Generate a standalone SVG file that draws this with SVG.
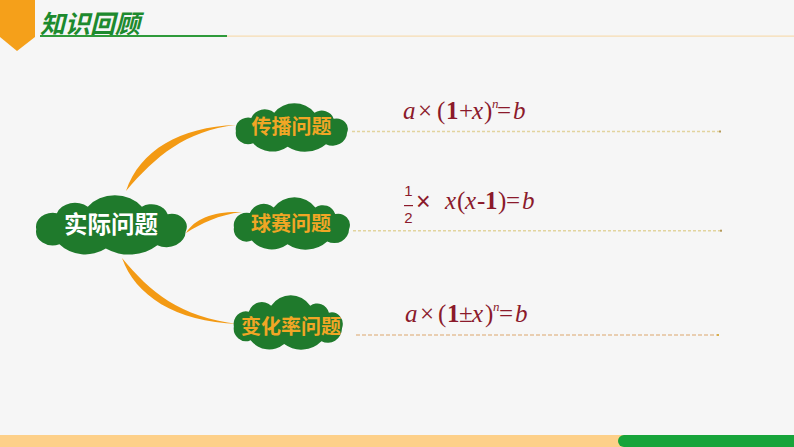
<svg xmlns="http://www.w3.org/2000/svg" xmlns:xlink="http://www.w3.org/1999/xlink" width="794" height="447" viewBox="0 0 794 447">
  <style>
    .cloud { fill: #1f7a2c; }
    .lbl { font-family: "Noto Sans CJK SC", "Noto Sans", sans-serif; font-weight: bold; text-anchor: middle; }
    .lbl-o { fill: #f1a625; font-size: 20px; }
    .lbl-w { fill: #ffffff; font-size: 23.5px; }
    .conn { fill: #f39a14; }
    .f { font-family: "Liberation Serif", "DejaVu Serif", serif; font-size: 25px; fill: #8b1a2b; }
    .it { font-style: italic; }
    .bd { font-weight: bold; }
    .guide { fill: none; stroke: #e2d49e; stroke-width: 1.5; stroke-dasharray: 3 2; }
    .guide2 { fill: none; stroke: #dca66c; stroke-width: 1.2; stroke-dasharray: 4 2; }
  </style>
  <defs>
    <path id="cloudShape" d="M2,32 A13,13 0 0 1 18,17 A15,15 0 0 1 42,11 A26,26 0 0 1 84,11 A13,13 0 0 1 104,18 A12,12 0 0 1 118,34 A15,15 0 0 1 96,47 A32,32 0 0 1 56,50 A26,26 0 0 1 20,46 A13,13 0 0 1 2,32 Z"/>
  </defs>

  <rect x="0" y="0" width="794" height="447" fill="#f6f6f6"/>

  <g id="header">
    <polygon points="0,0 35,0 35,37 17,51 0,37" fill="#f5a01a"/>
    <text x="40" y="33" font-family="'Noto Sans CJK SC', 'Noto Sans', sans-serif" font-size="25" font-weight="bold" font-style="italic" fill="#1d8a2e">知识回顾</text>
    <rect x="40" y="35" width="187" height="2" fill="#2e9a3a"/>
    <rect x="227" y="35.5" width="567" height="1.2" fill="#f7dcb0"/>
  </g>

  <g id="footer">
    <rect x="0" y="435" width="624" height="12" fill="#fdd089"/>
    <rect x="618" y="435" width="190" height="12" rx="6" fill="#17a43a"/>
  </g>

  <g id="connectors">
    <path class="conn" d="M126,191 C140,150 180,127 236,125 C185,131 156,156 126,191 Z"/>
    <path class="conn" d="M186,233 C195,218 215,211 242,212 C218,215 202,223 186,233 Z"/>
    <path class="conn" d="M122,258 C135,295 175,322 238,324 C180,317 150,292 122,258 Z"/>
  </g>

  <g id="node-main">
    <use xlink:href="#cloudShape" class="cloud" transform="translate(33.7,195) scale(1.288,1.071)"/>
    <text class="lbl lbl-w" x="111" y="233">实际问题</text>
  </g>

  <g id="node-spread">
    <use xlink:href="#cloudShape" class="cloud" transform="translate(234,103) scale(0.958,0.875)"/>
    <text class="lbl lbl-o" x="291.5" y="133.5">传播问题</text>
  </g>

  <g id="node-ball">
    <use xlink:href="#cloudShape" class="cloud" transform="translate(232,197) scale(0.992,0.946)"/>
    <text class="lbl lbl-o" x="291" y="231">球赛问题</text>
  </g>

  <g id="node-rate">
    <use xlink:href="#cloudShape" class="cloud" transform="translate(232,295) scale(0.932,0.982)"/>
    <text class="lbl lbl-o" x="291" y="334">变化率问题</text>
  </g>

  <g id="guides">
    <line class="guide" x1="352" y1="131.5" x2="719" y2="131.5"/>
    <rect x="719" y="130.5" width="2" height="2" fill="#b59a5a"/>
    <line class="guide" x1="353" y1="230.7" x2="720" y2="230.7"/>
    <rect x="720" y="229.7" width="2" height="2" fill="#b59a5a"/>
    <line class="guide2" x1="356" y1="335" x2="717" y2="335"/>
    <rect x="717" y="334" width="2" height="2" fill="#d8b04a"/>
  </g>

  <g id="formula-1">
    <text class="f" y="119"><tspan class="it" x="403">a</tspan><tspan x="418">×</tspan><tspan x="437">(</tspan><tspan class="bd" x="446">1</tspan><tspan x="459">+</tspan><tspan class="it" x="472">x</tspan><tspan x="484">)</tspan><tspan class="it" x="492" y="108" font-size="13">n</tspan><tspan x="497" y="119">=</tspan><tspan class="it" x="513">b</tspan></text>
  </g>

  <g id="formula-2">
    <text x="408.5" y="196" font-family="'Liberation Sans', Arial, sans-serif" font-size="15" fill="#8b1a2b" text-anchor="middle">1</text>
    <rect x="404" y="205" width="9" height="1.2" fill="#8b1a2b"/>
    <text x="408.5" y="223" font-family="'Liberation Sans', Arial, sans-serif" font-size="15" fill="#8b1a2b" text-anchor="middle">2</text>
    <text x="416" y="210" font-family="'Liberation Sans', Arial, sans-serif" font-size="25" fill="#8b1a2b">×</text>
    <text class="f" y="209"><tspan class="it" x="445">x</tspan><tspan x="457">(</tspan><tspan class="it" x="465">x</tspan><tspan x="477">-</tspan><tspan class="bd" x="485">1</tspan><tspan x="498">)</tspan><tspan x="506">=</tspan><tspan class="it" x="522">b</tspan></text>
  </g>

  <g id="formula-3">
    <text class="f" y="322"><tspan class="it" x="405">a</tspan><tspan x="420">×</tspan><tspan x="438">(</tspan><tspan class="bd" x="447">1</tspan><tspan x="459">±</tspan><tspan class="it" x="472">x</tspan><tspan x="485">)</tspan><tspan class="it" x="493" y="311" font-size="13">n</tspan><tspan x="499" y="322">=</tspan><tspan class="it" x="515">b</tspan></text>
  </g>
</svg>
